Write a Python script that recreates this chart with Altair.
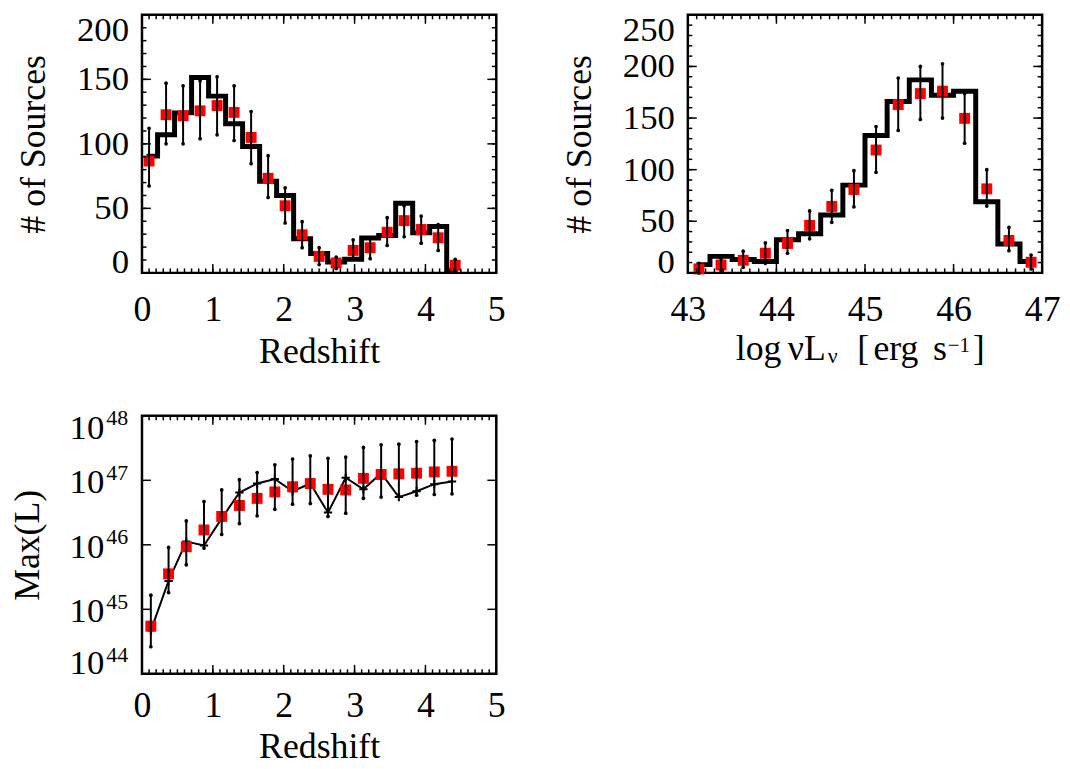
import altair as alt
import pandas as pd

FONT = "Liberation Serif"
W, H = 357, 260

# ---------------- Panel 1: redshift distribution ----------------
z_centers = [0.10, 0.34, 0.58, 0.82, 1.06, 1.30, 1.54, 1.78, 2.02, 2.26,
             2.50, 2.74, 2.98, 3.22, 3.46, 3.70, 3.94, 4.18, 4.42]
z_hist = [90.5, 107, 124, 151.5, 137, 115.6, 98, 71, 60, 26.4,
          15, 8.5, 10.5, 27, 29, 54, 31, 36, 2]
z_model = [86.7, 122.6, 121.8, 125.6, 129.7, 124.4, 105, 73.3, 52, 29.5,
           12.8, 7.7, 17.4, 19.5, 31.5, 40.5, 33.6, 27.2, 5.9]
z_hi = [112, 147, 145, 149, 152, 145, 125, 90.8, 65.9, 39.7,
        19.5, 12.3, 25.6, 27, 42.8, 52, 44, 37.4, 10.5]
z_lo = [67.4, 100, 100, 104, 107, 102.6, 84.6, 58.5, 38.7, 19.5,
        6.4, 3.3, 11.5, 11, 21.3, 28, 23, 17.4, 1.5]

# ---------------- Panel 2: luminosity distribution ----------------
l_centers = [43.125, 43.375, 43.625, 43.875, 44.125, 44.375, 44.625, 44.875,
             45.125, 45.375, 45.625, 45.875, 46.125, 46.375, 46.625, 46.875]
l_hist = [8, 16, 13, 11, 32, 38, 56, 85, 133, 166, 187, 172, 176, 69, 28, 11]
l_model = [3.8, 7.7, 12.2, 19, 28.5, 46, 64.4, 80.8, 119, 163, 173.7, 176,
           149.7, 81.4, 31.4, 10.3]
l_hi = [9.3, 14, 21, 29, 41, 60, 80, 99, 141.7, 188.8, 200, 202.6, 173.7,
        100, 44, 17.3]
l_lo = [0, 2.2, 5.4, 9.3, 19, 33, 49, 64, 97.4, 138, 148.7, 150, 125.6,
        64.7, 21.5, 3.8]

# ---------------- Panel 3: max luminosity vs redshift (log10 values) ----------------
m_z = [0.125, 0.375, 0.625, 0.875, 1.125, 1.375, 1.625, 1.875, 2.125,
       2.375, 2.625, 2.875, 3.125, 3.375, 3.625, 3.875, 4.125, 4.375]
m_obs = [44.67, 45.44, 46.05, 45.99, 46.41, 46.81, 46.95, 47.02, 46.83,
         46.95, 46.50, 47.04, 46.86, 47.11, 46.74, 46.83, 46.94, 46.98]
m_model = [44.74, 45.55, 45.97, 46.23, 46.44, 46.61, 46.72, 46.82, 46.90,
           46.95, 46.86, 46.85, 47.03, 47.09, 47.10, 47.11, 47.13, 47.14]
m_hi = [45.22, 45.96, 46.37, 46.67, 46.85, 47.01, 47.12, 47.24, 47.33,
        47.38, 47.34, 47.36, 47.51, 47.55, 47.56, 47.60, 47.62, 47.64]
m_lo = [44.42, 45.26, 45.69, 45.95, 46.16, 46.33, 46.45, 46.55, 46.63,
        46.64, 46.44, 46.49, 46.72, 46.74, 46.76, 46.77, 46.78, 46.79]

z_ticks = [0, 1, 2, 3, 4, 5]
n1_ticks = [0, 50, 100, 150, 200]
l_ticks = [43, 44, 45, 46, 47]
n2_ticks = [0, 50, 100, 150, 200, 250]
exp_ticks = [44, 45, 46, 47, 48]

MAJ, MIN, TH = 9, 4.5, 1.5
YLAB = 35


def frame_ticks(xs, ys, x_major, x_minor, y_major, y_minor):
    """Inward ticks on all four sides (IDL style box)."""
    out = []
    specs = [(pd.DataFrame({"v": x_major}), MAJ)]
    if x_minor is not None:
        specs.append((alt.sequence(*x_minor, as_="v"), MIN))
    for data, size in specs:
        for ypos in (H - size / 2, size / 2):
            out.append(
                alt.Chart(data).mark_tick(orient="vertical", size=size, thickness=TH,
                                          color="black", opacity=1)
                .encode(x=alt.X("v:Q", scale=xs), y=alt.value(ypos))
            )
    specs = [(pd.DataFrame({"v": y_major}), MAJ)]
    if y_minor is not None:
        specs.append((alt.sequence(*y_minor, as_="v"), MIN))
    for data, size in specs:
        for xpos in (size / 2, W - size / 2):
            out.append(
                alt.Chart(data).mark_tick(orient="horizontal", size=size, thickness=TH,
                                          color="black", opacity=1)
                .encode(y=alt.Y("v:Q", scale=ys), x=alt.value(xpos))
            )
    return out


def ylabels(ticks, ys, pad, top_dy):
    """Y tick labels: top one hangs below the top edge, bottom one sits on the bottom edge."""
    base = alt.Chart(pd.DataFrame({"v": ticks}))
    lo, hi = min(ticks), max(ticks)
    out = []
    for cond, bl, dy in ((f"datum.v == {hi}", "top", top_dy),
                         (f"datum.v > {lo} && datum.v < {hi}", "middle", 0),
                         (f"datum.v == {lo}", "alphabetic", 0)):
        out.append(base.transform_filter(cond).mark_text(
            font=FONT, fontSize=YLAB, align="right", baseline=bl, dy=dy, color="black"
        ).encode(y=alt.Y("v:Q", scale=ys), x=alt.value(-pad),
                 text=alt.Text("v:Q", format="d")))
    return out


def errbars(base, xf, lo, hi, xs, ys):
    rule = base.mark_rule(color="black", strokeWidth=2).encode(
        x=alt.X(f"{xf}:Q", scale=xs),
        y=alt.Y(f"{lo}:Q", scale=ys), y2=f"{hi}:Q")
    ends = [base.mark_circle(color="black", size=14, opacity=1).encode(
        x=alt.X(f"{xf}:Q", scale=xs),
        y=alt.Y(f"{f}:Q", scale=ys)) for f in (lo, hi)]
    return [rule] + ends


def hist_panel(df, xs, ys, xaxis, yaxis, x_major, x_minor, y_major, y_minor, extra=()):
    base = alt.Chart(df)
    hist = base.mark_line(color="black", strokeWidth=5, interpolate="step",
                          strokeCap="square", strokeJoin="miter").encode(
        x=alt.X("x:Q", scale=xs, axis=xaxis),
        y=alt.Y("h:Q", scale=ys, axis=yaxis))
    sq = base.mark_square(color="#ff0000", size=121, opacity=1).encode(
        x=alt.X("x:Q", scale=xs), y=alt.Y("m:Q", scale=ys))
    layers = [hist, sq] + errbars(base, "x", "lo", "hi", xs, ys) + \
        frame_ticks(xs, ys, x_major, x_minor, y_major, y_minor) + \
        ylabels(y_major, ys, 13, -2)
    return alt.layer(*layers, *extra).properties(width=W, height=H)


# ---------- Panel 1 ----------
df1 = pd.DataFrame({"x": z_centers, "h": z_hist, "m": z_model, "hi": z_hi, "lo": z_lo})
xs1 = alt.Scale(domain=[0, 5], nice=False, zero=False)
ys1 = alt.Scale(domain=[0, 200], nice=False, zero=False)
xax1 = alt.Axis(values=z_ticks, format="d", title="Redshift", labelFlush=False,
                labelBaseline="alphabetic", labelPadding=48,
                titleBaseline="alphabetic", titleY=90.5)
yax1 = alt.Axis(values=n1_ticks, labels=False, title="# of Sources",
                titleX=-98, titleY=H / 2, titleBaseline="alphabetic")
p1 = hist_panel(df1, xs1, ys1, xax1, yax1, z_ticks, (0, 5.05, 0.1), n1_ticks, (0, 205, 10))

# ---------- Panel 2 ----------
df2 = pd.DataFrame({"x": l_centers, "h": l_hist, "m": l_model, "hi": l_hi, "lo": l_lo})
xs2 = alt.Scale(domain=[43, 47], nice=False, zero=False)
ys2 = alt.Scale(domain=[0, 250], nice=False, zero=False)
xax2 = alt.Axis(values=l_ticks, format="d", title=None, labelFlush=False,
                labelBaseline="alphabetic", labelPadding=48)
yax2 = alt.Axis(values=n2_ticks, labels=False, title="# of Sources",
                titleX=-98, titleY=H / 2, titleBaseline="alphabetic")


def piece(text, x, y, size):
    return alt.Chart(pd.DataFrame({"t": [text]})).mark_text(
        font=FONT, fontSize=size, align="left", baseline="alphabetic", color="black"
    ).encode(text="t:N", x=alt.value(x), y=alt.value(y))


# axis title "log νLν [erg s−1]" assembled from pieces (sub/superscripts)
title2 = [
    piece("log", 48.3, 347.8, 36),
    piece("\u03bdL", 100.7, 347.8, 36),
    piece("\u03bd", 141, 351.2, 22),
    piece("[", 170.7, 347.8, 36),
    piece("erg", 187, 347.8, 36),
    piece("s", 247, 347.8, 36),
    piece("\u22121", 262, 339.5, 21),
    piece("]", 287, 347.8, 36),
]
p2 = hist_panel(df2, xs2, ys2, xax2, yax2, l_ticks, (43, 47.05, 0.1), n2_ticks, (0, 255, 10),
                extra=title2)

# ---------- Panel 3 ----------
df3 = pd.DataFrame({"x": m_z, "obs": m_obs, "mod": m_model, "hi": m_hi, "lo": m_lo})
xs3 = alt.Scale(domain=[0, 5], nice=False, zero=False)
ys3 = alt.Scale(type="log", domain=[1e44, 1e48], nice=False)
base3 = alt.Chart(df3).transform_calculate(
    Lobs="pow(10, datum.obs)", Lmod="pow(10, datum.mod)",
    Lhi="pow(10, datum.hi)", Llo="pow(10, datum.lo)")
xax3 = alt.Axis(values=z_ticks, format="d", title="Redshift", labelFlush=False,
                labelBaseline="alphabetic", labelPadding=43,
                titleBaseline="alphabetic", titleY=84)
yax3 = alt.Axis(values=[10 ** e for e in exp_ticks], labels=False, title="Max(L)",
                titleX=-104, titleY=H / 2, titleBaseline="alphabetic")
line3 = base3.mark_line(color="black", strokeWidth=2).encode(
    x=alt.X("x:Q", scale=xs3, axis=xax3), y=alt.Y("Lobs:Q", scale=ys3, axis=yax3))
plus3 = base3.mark_point(shape="M-1,0H1M0,-1V1", size=70, color="black", filled=False,
                         strokeWidth=2, opacity=1).encode(
    x=alt.X("x:Q", scale=xs3), y=alt.Y("Lobs:Q", scale=ys3))
sq3 = base3.mark_square(color="#ff0000", size=121, opacity=1).encode(
    x=alt.X("x:Q", scale=xs3), y=alt.Y("Lmod:Q", scale=ys3))
eb3 = errbars(base3, "x", "Llo", "Lhi", xs3, ys3)
expdf = alt.Chart(pd.DataFrame({"e": exp_ticks})).transform_calculate(v="pow(10, datum.e)")


def pow_label(cond, base_bl, base_dy, exp_dy):
    tens = expdf.transform_filter(cond).mark_text(
        text="10", font=FONT, fontSize=YLAB, align="right", baseline=base_bl, dy=base_dy,
        color="black").encode(x=alt.value(-38), y=alt.Y("v:Q", scale=ys3))
    ex = expdf.transform_filter(cond).mark_text(
        font=FONT, fontSize=22, align="left", baseline="middle", dy=exp_dy, color="black"
    ).encode(x=alt.value(-36), y=alt.Y("v:Q", scale=ys3),
             text=alt.Text("e:Q", format="d"))
    return [tens, ex]


labels3 = (pow_label("datum.e == 48", "top", -4.5, 2.4)
           + pow_label("datum.e > 44 && datum.e < 48", "middle", 2, -7.6)
           + pow_label("datum.e == 44", "alphabetic", 0, -19))
ticks3 = frame_ticks(xs3, ys3, z_ticks, (0, 5.05, 0.1), [10 ** e for e in exp_ticks], None)
p3 = alt.layer(line3, plus3, sq3, *eb3, *ticks3, *labels3).properties(width=W, height=H)

chart = alt.concat(p1, p2, p3, columns=2, spacing={"row": 144, "column": 193},
                   bounds="flush").properties(
    padding={"left": 0, "top": 0, "right": 0, "bottom": 0}
).configure_view(stroke="black", strokeWidth=2.5).configure_axis(
    domain=False, ticks=False, tickSize=0, grid=False, labelFont=FONT, labelFontSize=36,
    labelColor="black", titleFont=FONT, titleFontSize=36, titleFontWeight="normal",
    titleColor="black", labelOverlap=False
)

chart.save("out.html", embed_options={"renderer": "svg", "actions": False})
